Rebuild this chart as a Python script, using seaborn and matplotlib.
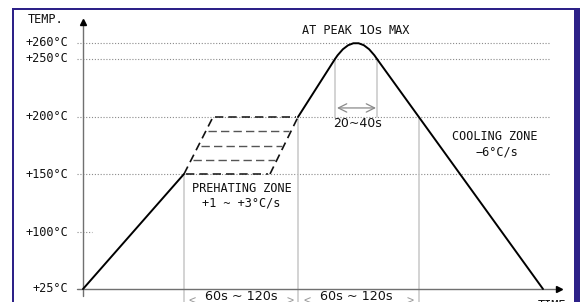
"""
Reflow soldering temperature profile (schematic).
"""

import numpy as np
import matplotlib
matplotlib.use("Agg")
import matplotlib.pyplot as plt
import seaborn as sns
from matplotlib.patches import Rectangle, PathPatch
from matplotlib.path import Path

# temperature levels on the axis (deg C)
temp_levels = [25, 100, 150, 200, 250, 260]
temp_labels = ["+25°C", "+100°C", "+150°C", "+200°C", "+250°C", "+260°C"]
grid_levels = [150, 200, 250, 260]

# profile, schematic time (s from start) vs temperature
ramp_time = [0, 101]
ramp_temp = [25, 150]
rise_time = [215, 252]
rise_temp = [200, 250]
peak_time = [252, 273, 294]   # rounded top, bezier nodes
peak_temp = [250, 270, 250]
fall_time = [294, 460]
fall_temp = [250, 25]

# preheating band
zone_levels = [150, 162.5, 175, 187.5, 200]
zone_left = [101, 130]     # left edge time at 150 / 200
zone_right = [187, 215]    # right edge time at 150 / 200

# vertical guides
bound_time = [101, 215, 336]
bound_top = [150, 200, 200]
peak_bounds = [252, 294]

# the axis is schematic: spacing between levels is not linear
scale_temp = [-100, 25, 100, 150, 200, 250, 260, 400]
scale_pos = [-95, 0, 57, 115, 172, 230, 246, 470]


def fwd(t):
    return np.interp(t, scale_temp, scale_pos)


def inv(p):
    return np.interp(p, scale_pos, scale_temp)


sns.set_theme(style="white")
plt.rcParams['font.family'] = ['DejaVu Sans Mono', 'DejaVu Sans']

W, H = 582, 302
fig = plt.figure(figsize=(W / 100, H / 100), dpi=100)
ax = fig.add_axes([0, 0, 1, 1])
ax.set_yscale('function', functions=(fwd, inv))
ax.axis('off')

mono = 'DejaVu Sans Mono'
sans = 'DejaVu Sans'
fs = 8.6

# dotted level lines
for lv in grid_levels:
    ax.plot([-6, 467], [lv, lv], color='#8a8a8a', lw=0.8, ls=(0, (1, 1.6)), zorder=1)
ax.plot([-6, 9], [100, 100], color='#8a8a8a', lw=0.8, ls=(0, (1, 1.6)), zorder=1)

# vertical guides
for t, top in zip(bound_time, bound_top):
    ax.plot([t, t], [0, top], color='#c8c8c8', lw=1.1, zorder=1)
for t in peak_bounds:
    ax.plot([t, t], [200, 250], color='#c8c8c8', lw=1.1, zorder=1)

# axes with arrows
ax.plot([-6, 476], [25, 25], color='#707070', lw=1.0, zorder=2)
ax.plot([476], [25], marker='>', color='black', ms=5, zorder=3)
ax.plot([0, 0], [16, 273], color='#707070', lw=1.0, zorder=2)
ax.plot([0], [273], marker='^', color='black', ms=5, zorder=3)

# profile
for tx, ty in [(ramp_time, ramp_temp), (rise_time, rise_temp), (fall_time, fall_temp)]:
    sns.lineplot(x=tx, y=ty, ax=ax, color='black', lw=1.4, zorder=4)
top_path = Path(list(zip(peak_time, peak_temp)), [Path.MOVETO, Path.CURVE3, Path.CURVE3])
ax.add_patch(PathPatch(top_path, fill=False, edgecolor='black', lw=1.4, zorder=4))

# preheating band
ax.plot(zone_left, [150, 200], color='#111111', lw=1.2, ls=(0, (5, 3)), zorder=4)
ax.plot(zone_right, [150, 200], color='#111111', lw=1.2, ls=(0, (5, 3)), zorder=4)
for i, lv in enumerate(zone_levels):
    x0 = np.interp(lv, [150, 200], zone_left) + 2
    x1 = np.interp(lv, [150, 200], zone_right) - 2
    edge = i in (0, len(zone_levels) - 1)
    ax.plot([x0, x1], [lv, lv], color='#222222' if edge else '#555555',
            lw=1.2 if edge else 1.0, ls=(0, (5, 3)) if edge else (0, (6, 3)), zorder=4)

# 20~40s span
ax.annotate('', xy=(293, 207.8), xytext=(254, 207.8),
            arrowprops=dict(arrowstyle='<->,head_length=0.6,head_width=0.3',
                            color='#8a8a8a', lw=0.9, shrinkA=0, shrinkB=0,
                            mutation_scale=10))

# labels
for lv, lab in zip(temp_levels, temp_labels):
    ax.text(-15, lv, lab, ha='right', va='center', fontsize=fs, family=mono, color='#111111')
ax.text(-55, 274.4, 'TEMP.', ha='left', va='center', fontsize=fs, family=mono, color='#111111')

ax.text(244, 265.6, 'AT PEAK', ha='center', va='baseline', fontsize=fs, family=mono, color='#111111')
ax.text(287, 265.6, '10s', ha='center', va='baseline', fontsize=9.6, family=sans, color='#111111')
ax.text(316, 265.6, 'MAX', ha='center', va='baseline', fontsize=fs, family=mono, color='#111111')

ax.text(274, 194.5, '20~40s', ha='center', va='center', fontsize=9.0, family=sans, color='#111111')
ax.text(412, 182.5, 'COOLING ZONE', ha='center', va='center', fontsize=fs, family=mono, color='#111111')
ax.text(414, 169.3, '\u22126°C/s', ha='center', va='center', fontsize=fs, family=mono, color='#111111')
ax.text(159, 137.9, 'PREHATING ZONE', ha='center', va='center', fontsize=fs, family=mono, color='#111111')
ax.text(158, 125, '+1 ~ +3°C/s', ha='center', va='center', fontsize=fs, family=mono, color='#111111')

ax.text(158, 14.5, '60s ~ 120s', ha='center', va='center', fontsize=9.2, family=sans, color='#111111')
ax.text(273, 14.5, '60s ~ 120s', ha='center', va='center', fontsize=9.2, family=sans, color='#111111')
for t, ch in [(109, '<'), (207, '>'), (224, '<'), (327, '>')]:
    ax.text(t, 9.2, ch, ha='center', va='center', fontsize=fs, family=mono, color='#9a9a9a')
ax.text(455, 11.8, 'TIME', ha='left', va='top', fontsize=fs, family=mono, color='#111111')

ax.set_xlim(-83, W - 83)
ax.set_ylim(inv(-13), inv(289))

# page frame
def fig_rect(x0, y0, x1, y1, color):
    fig.add_artist(Rectangle((x0 / W, 1 - y1 / H), (x1 - x0) / W, (y1 - y0) / H,
                             transform=fig.transFigure, color=color, lw=0, zorder=10))

frame = '#2d2188'
fig_rect(12, 8, 14, H, frame)
fig_rect(12, 8, 580, 10, frame)
fig_rect(574, 8, 580, H, frame)

fig.savefig('out.png', dpi=100)
